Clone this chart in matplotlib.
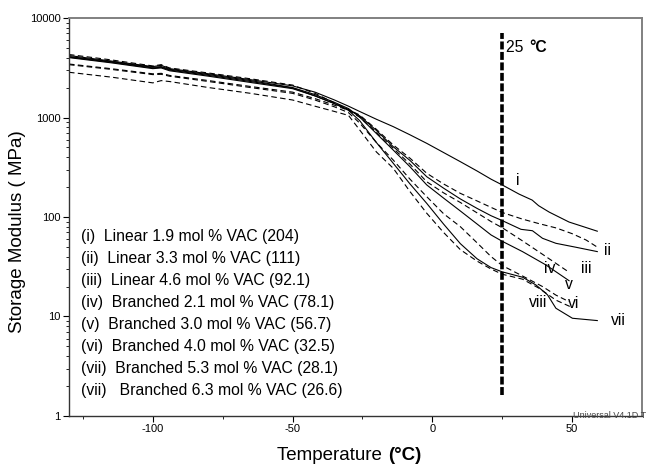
import matplotlib
matplotlib.use("Agg")
import matplotlib.pyplot as plt
from matplotlib.ticker import LogLocator, FixedLocator, NullFormatter

plt.rcParams['font.family'] = ['Liberation Sans', 'DejaVu Sans']

# temperature grid shared by all curves up to 25 C
temp_main = [-130, -115, -100, -97, -94, -80, -65, -50, -42, -35, -30, -26,
             -20, -14, -8, -2, 4, 10, 16, 21, 25]

# storage modulus (MPa) on temp_main
mod_i = [4200, 3700, 3250, 3350, 3100, 2750, 2400, 2080, 1800, 1500, 1300, 1150,
         960, 810, 670, 550, 445, 360, 290, 240, 210]
mod_ii = [4300, 3800, 3300, 3400, 3150, 2800, 2450, 2120, 1750, 1400, 1200, 1060,
          760, 530, 390, 275, 215, 173, 145, 125, 111]
mod_iii = [4050, 3600, 3150, 3200, 3000, 2650, 2300, 1980, 1650, 1380, 1200, 1040,
           740, 509, 370, 254, 195, 152, 122, 103, 92]
mod_iv = [3450, 3100, 2750, 2780, 2650, 2350, 2050, 1800, 1550, 1330, 1180, 1010,
          710, 490, 340, 226, 175, 140, 110, 90, 78]
mod_v = [4100, 3650, 3200, 3250, 3050, 2700, 2350, 2000, 1700, 1420, 1230, 1010,
         690, 471, 320, 210, 155, 115, 85, 66, 57]
mod_vi = [3400, 3050, 2700, 2720, 2600, 2300, 2000, 1750, 1500, 1280, 1120, 880,
          560, 374, 240, 160, 108, 80, 55, 40, 32.5]
mod_vii = [4000, 3550, 3100, 3150, 2950, 2600, 2250, 1950, 1650, 1380, 1180, 930,
           560, 347, 215, 137, 85, 54, 38, 31, 28.1]
mod_viii = [2850, 2550, 2230, 2350, 2300, 2000, 1750, 1500, 1300, 1150, 1050, 750,
            450, 309, 180, 109, 70, 47, 36, 30, 26.6]

# tails above 25 C
tail_t_i = [31, 35.7, 38, 41.8, 48.9, 54, 59]
tail_m_i = [170, 148, 130, 112, 89, 80, 72]
tail_t_ii = [32.1, 38, 44.3, 50, 55, 58.9]
tail_m_ii = [95.5, 86, 77.6, 68, 58.7, 50]
tail_t_iii = [31.7, 35.8, 39.4, 44.2, 51.3, 59.0]
tail_m_iii = [75.2, 72.8, 61.1, 54.4, 49.7, 44.9]
tail_t_iv = [32.3, 39.4, 48.3]
tail_m_iv = [57.4, 42.2, 28.6]
tail_t_v = [32.3, 40.6, 48.9]
tail_m_v = [44.8, 33, 22.9]
tail_t_vi = [32.3, 39.4, 44.2, 48.9]
tail_m_vi = [25.5, 20, 16.4, 14.1]
tail_t_vii = [32.3, 37.1, 41.2, 44.2, 50.1, 59.0]
tail_m_vii = [24.8, 20.7, 16.5, 12.1, 9.6, 9.1]
tail_t_viii = [32.3, 38.2, 44.2, 49.5]
tail_m_viii = [23.7, 19.2, 14.6, 12.5]

curve_names = ['i', 'ii', 'iii', 'iv', 'v', 'vi', 'vii', 'viii']
label_pos_t = [30.7, 62.5, 55, 42.1, 49, 50.4, 66.4, 37.9]
label_pos_m = [235, 46.5, 30.7, 30.7, 20.8, 13.4, 9.2, 13.7]

legend_lines = [
    "(i)  Linear 1.9 mol % VAC (204)",
    "(ii)  Linear 3.3 mol % VAC (111)",
    "(iii)  Linear 4.6 mol % VAC (92.1)",
    "(iv)  Branched 2.1 mol % VAC (78.1)",
    "(v)  Branched 3.0 mol % VAC (56.7)",
    "(vi)  Branched 4.0 mol % VAC (32.5)",
    "(vii)  Branched 5.3 mol % VAC (28.1)",
    "(vii)   Branched 6.3 mol % VAC (26.6)",
]

fig = plt.figure(figsize=(6.47, 4.76), dpi=100)
ax = fig.add_axes([0.1066, 0.1261, 0.8857, 0.836])

mods = [mod_i, mod_ii, mod_iii, mod_iv, mod_v, mod_vi, mod_vii, mod_viii]
tails_t = [tail_t_i, tail_t_ii, tail_t_iii, tail_t_iv, tail_t_v, tail_t_vi, tail_t_vii, tail_t_viii]
tails_m = [tail_m_i, tail_m_ii, tail_m_iii, tail_m_iv, tail_m_v, tail_m_vi, tail_m_vii, tail_m_viii]

for k in range(8):
    t = temp_main + tails_t[k]
    m = mods[k] + tails_m[k]
    if k % 2 == 0:
        ax.plot(t, m, color='black', lw=0.8)
    else:
        ax.plot(t, m, color='black', lw=0.8, dashes=(5, 3))

for name, tx, my in zip(curve_names, label_pos_t, label_pos_m):
    ax.text(tx, my, name, fontsize=11.3, ha='center', va='center')

# 25 C marker line
ax.plot([25, 25], [1.63, 7070], color='black', lw=2.6, dashes=(2.2, 0.7))
ax.text(26.5, 5000, "25 ", fontsize=11.3, ha='left', va='center')
ax.text(34.5, 5000, "°C", fontsize=11.3, fontweight='bold', ha='left', va='center')

# composition list
for j, s in enumerate(legend_lines):
    fig.text(81 / 647, 1 - (236.7 + j * 21.9) / 476, s, fontsize=11.3,
             ha='left', va='center')

ax.set_yscale('log')
ax.set_xlim(-130, 75)
ax.set_ylim(1, 10000)
ax.yaxis.set_major_locator(FixedLocator([1, 10, 100, 1000, 10000]))
ax.set_yticklabels(['1', '10', '100', '1000', '10000'])
ax.yaxis.set_minor_locator(LogLocator(base=10, subs=range(2, 10)))
ax.yaxis.set_minor_formatter(NullFormatter())
ax.set_xticks([-100, -50, 0, 50])
ax.set_xticklabels(['-100', '-50', '0', '50'])
ax.set_xticks([-125, -75, -25, 25], minor=True)
ax.tick_params(axis='both', which='major', labelsize=8, length=4, width=0.8, pad=2)
ax.tick_params(axis='both', which='minor', length=2.5, width=0.6)

for side in ['top', 'right']:
    ax.spines[side].set_color('#808080')
    ax.spines[side].set_linewidth(1.4)
for side in ['left', 'bottom']:
    ax.spines[side].set_color('#333333')
    ax.spines[side].set_linewidth(1.0)

ax.text(50.2, 1.0, "Universal V4.1D T", fontsize=6.5, color='#444444',
        ha='left', va='center', clip_on=False)

fig.text(18 / 647, 1 - 232 / 476, "Storage Modulus ( MPa)", fontsize=13.5,
         rotation=90, ha='center', va='center')
fig.text(277 / 647, 1 - 455 / 476, "Temperature ", fontsize=13.5,
         ha='left', va='center')
fig.text(388 / 647, 1 - 455 / 476, "(°C)", fontsize=13.5, fontweight='bold',
         ha='left', va='center')

fig.savefig("out.png", dpi=100)
